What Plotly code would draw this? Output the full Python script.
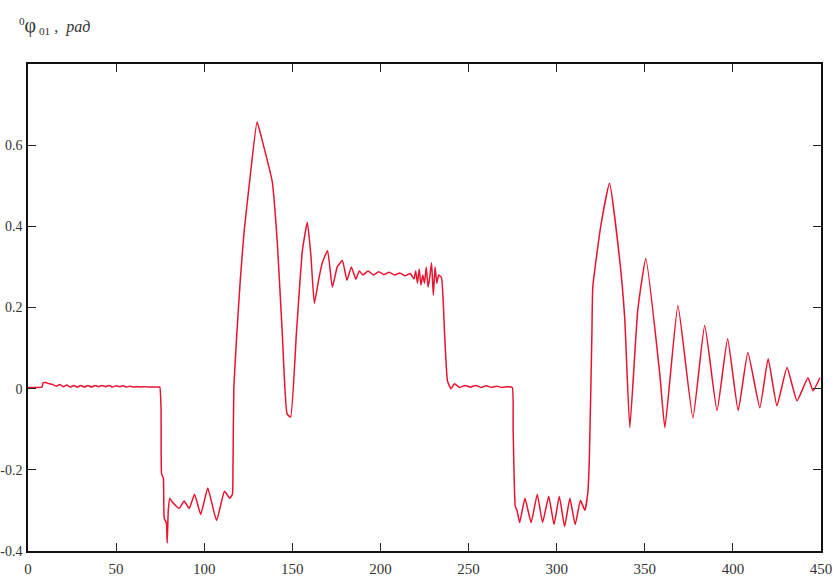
import plotly.graph_objects as go

# time (x) and angle (y)
t = [0, 5, 8, 8.5, 10, 12, 14, 16, 18, 20, 22, 24, 26, 28, 30, 32, 34, 36, 38, 40,
     42, 44, 46, 48, 50, 52, 54, 56, 58, 60, 62, 64, 66, 68, 70, 72, 74,
     74.8, 75.5, 75.8, 76.8, 77.3, 78.5, 79, 79.6, 80.5, 82,
     85.8, 88.6, 91.5, 94.5, 98, 102, 107, 111.5, 114.5, 116,
     116.3, 116.8, 118.5, 120.5, 122.7, 126, 130,
     133, 138.6, 141.5, 144.3, 147, 149,
     152.3, 155.7, 158.5, 160.5, 162.5, 165, 167, 170, 172.7, 175.5, 178.4, 181,
     183.5, 186, 188, 190, 193, 196, 199, 202, 205, 208, 211, 214, 217,
     219, 220, 221, 222, 223, 224, 225, 226, 227, 228, 229, 230, 231, 232, 233, 234.6,
     236.4, 238, 240, 242, 245, 248, 251, 254, 257, 260, 263, 266, 269, 272, 274.8,
     275.3, 276.5, 277.5, 279, 282, 285.5, 289, 292, 295.5, 298.5, 301.5, 304.5, 307.5,
     310.5, 313.5, 316, 317.6, 318.5, 320, 320.5, 325, 330,
     335.8, 338.6, 341.5, 346, 350.6, 358.5, 361.4, 368.8, 377.3, 384, 391, 397,
     403, 408.5, 415.3, 420, 425, 430.7, 436.4, 442.6, 445.5, 449.4]

phi = [0.003, 0.003, 0.004, 0.014, 0.015, 0.012, 0.010, 0.006, 0.010, 0.005, 0.009,
       0.004, 0.008, 0.004, 0.008, 0.004, 0.008, 0.004, 0.008, 0.005, 0.008, 0.005,
       0.008, 0.004, 0.007, 0.005, 0.007, 0.004, 0.006, 0.004, 0.005, 0.004, 0.005,
       0.004, 0.004, 0.004, 0.004,
       0.004, -0.05, -0.21, -0.22, -0.32, -0.33, -0.38, -0.30, -0.27, -0.28,
       -0.295, -0.277, -0.295, -0.26, -0.31, -0.245, -0.325, -0.253, -0.27, -0.26,
       -0.2, 0.0, 0.135, 0.27, 0.39, 0.52, 0.657,
       0.61, 0.51, 0.358, 0.136, -0.062, -0.07,
       0.136, 0.34, 0.41, 0.33, 0.21, 0.27, 0.31, 0.34, 0.25, 0.30, 0.316, 0.267,
       0.30, 0.27, 0.29, 0.28, 0.29, 0.28, 0.288, 0.281, 0.287, 0.28, 0.285, 0.278, 0.284,
       0.27, 0.29, 0.26, 0.295, 0.255, 0.28, 0.26, 0.30, 0.25, 0.275, 0.31, 0.23, 0.30,
       0.26, 0.28, 0.274,
       0.136, 0.02, 0.0, 0.012, 0.003, 0.008, 0.004, 0.008, 0.003, 0.007, 0.003, 0.006,
       0.003, 0.005, 0.003,
       -0.1, -0.29, -0.30, -0.33, -0.27, -0.33, -0.26, -0.33, -0.265, -0.335, -0.265,
       -0.34, -0.27, -0.335, -0.275, -0.3, -0.26, -0.18, 0.136, 0.25, 0.40, 0.506,
       0.316, 0.175, -0.096, 0.193, 0.321, 0.037, -0.096, 0.205, -0.072, 0.156, -0.054,
       0.123, -0.054, 0.089, -0.047, 0.074, -0.042, 0.052, -0.03, 0.027, -0.005, 0.027]

x_ticks = [0, 50, 100, 150, 200, 250, 300, 350, 400, 450]
y_ticks = [-0.4, -0.2, 0, 0.2, 0.4, 0.6]
y_tick_text = ["-0.4", "-0.2", "0", "0.2", "0.4", "0.6"]

SERIF = "Liberation Serif"

fig = go.Figure()
fig.add_trace(go.Scatter(x=t, y=phi, mode="lines",
                         line=dict(color="#e8132f", width=1.5, shape="spline", smoothing=0.4),
                         showlegend=False, hoverinfo="skip"))

fig.update_xaxes(range=[0, 450], tickvals=x_ticks, ticks="inside", ticklen=8, tickwidth=1,
                 tickcolor="#222", showline=True, linecolor="#111", linewidth=1.5,
                 mirror="ticks", showgrid=False, zeroline=False,
                 tickfont=dict(family=SERIF, size=15, color="#333333"),
                 ticklabelstandoff=3)
fig.update_yaxes(range=[-0.4, 0.8], tickvals=y_ticks, ticktext=y_tick_text, ticks="inside",
                 ticklen=8, tickwidth=1, tickcolor="#222", showline=True, linecolor="#111",
                 linewidth=1.5, mirror="ticks", showgrid=False, zeroline=False,
                 tickfont=dict(family=SERIF, size=14, color="#333333"),
                 ticklabelstandoff=1)

fig.add_annotation(xref="paper", yref="paper", x=-0.014, y=1.08, xanchor="left",
                   yanchor="middle", showarrow=False,
                   text="<sup>0</sup><span style='font-size:20px'>φ</span>"
                        "<sub> 01</sub> ,  <i>рад</i>",
                   font=dict(family=SERIF, size=16, color="#333333"))

fig.update_layout(width=834, height=580, autosize=False,
                  margin=dict(l=28, r=13, t=64, b=29, autoexpand=False),
                  paper_bgcolor="white", plot_bgcolor="white")

fig.write_html("out.html", config={"displayModeBar": False},
               post_script="document.body.style.margin='0';document.body.style.padding='0';")
